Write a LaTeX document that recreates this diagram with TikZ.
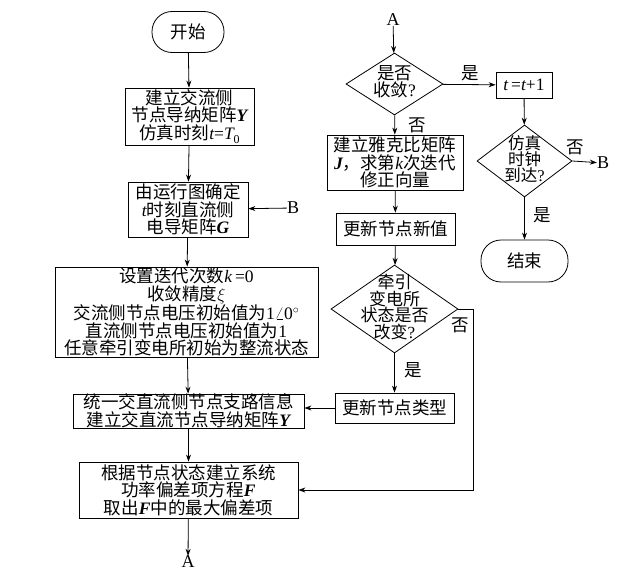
\documentclass[tikz,border=0pt]{standalone}
\usepackage{fontspec}
\setmainfont{Noto Sans CJK SC}
\newfontfamily\tm{Liberation Serif}
\usetikzlibrary{shapes.geometric,arrows.meta}
\newcommand\bi[1]{{\tm\bfseries\itshape #1}}
\newcommand\ti[1]{{\tm\itshape #1}}
\newcommand\tr[1]{{\tm #1}}
\tikzset{
  base/.style={font=\fontsize{17.5}{17.5}\selectfont, align=center, inner sep=0pt},
  box/.style={base, draw, line width=0.8pt},
  term/.style={base, draw, line width=0.8pt, rounded corners=20pt},
  dia/.style={draw, line width=0.8pt, shape=diamond, inner sep=0pt},
  lbl/.style={base},
  arr/.style={line width=0.8pt, -{Stealth[length=7pt,width=5pt]}},
  ln/.style={line width=0.8pt}
}
\begin{document}
\begin{tikzpicture}[x=1pt,y=-1pt]
\useasboundingbox (0,0) rectangle (640,578);
\fill[white] (0,0) rectangle (640,578);
% left column
\node[term, minimum width=72pt, minimum height=41pt] (start) at (188,32) {开始};
\node[box, minimum width=129pt, minimum height=57pt] (b1) at (189.5,116.5)
  {建立交流侧\\节点导纳矩阵\bi{Y}\\仿真时刻\ti{t}\tr{=}\ti{T}\raisebox{-0.25em}{\fontsize{12}{12}\selectfont\tr{0}}};
\node[box, minimum width=120pt, minimum height=55pt] (b2) at (188,209.5)
  {由运行图确定\\\ti{t}时刻直流侧\\电导矩阵\bi{G}};
\node[box, minimum width=263pt, minimum height=90pt, font=\fontsize{17.5}{17.6}\selectfont] (b3) at (186.5,312)
  {设置迭代次数\ti{k}\,\tr{=0}\\收敛精度$\xi$\\交流侧节点电压初始值为\tr{1}$\angle$\tr{0}$^\circ$\\直流侧节点电压初始值为\tr{1}\\任意牵引变电所初始为整流状态};
\node[box, minimum width=231pt, minimum height=32pt] (b4) at (188.5,411)
  {统一交直流侧节点支路信息\\建立交直流节点导纳矩阵\bi{Y}};
\node[box, minimum width=219pt, minimum height=56pt, font=\fontsize{17.5}{17.6}\selectfont] (b5) at (188.5,490)
  {根据节点状态建立系统\\功率偏差项方程\bi{F}\\取出\bi{F}中的最大偏差项};
\node[lbl, font=\tm\fontsize{18}{18}\selectfont] (aout) at (188,562) {A};
\node[lbl, font=\tm\fontsize{18}{18}\selectfont] (bin) at (293,208) {B};
% middle column
\node[lbl, font=\tm\fontsize{18}{18}\selectfont] (ain) at (393,20) {A};
\node[dia, minimum width=97pt, minimum height=62pt] (d1) at (394.5,84) {};
\node[lbl, font=\fontsize{17.5}{17}\selectfont] (d1t) at (394.5,82) {是否\\收敛\tr{?}};
\node[box, minimum width=136pt, minimum height=55pt] (bj) at (395,162.5)
  {建立雅克比矩阵\\\bi{J}，求第\ti{k}次迭代\\修正向量};
\node[box, minimum width=119pt, minimum height=32pt] (bu) at (395.5,229) {更新节点新值};
\node[dia, minimum width=127pt, minimum height=88pt] (d3) at (394.5,309) {};
\node[lbl, font=\fontsize{17}{15.5}\selectfont] (d3t) at (394.5,307) {牵引\\变电所\\状态是否\\改变\tr{?}};
\node[box, minimum width=119pt, minimum height=30pt] (bt) at (394.5,408) {更新节点类型};
% right column
\node[box, minimum width=56pt, minimum height=26pt] (bi) at (524,85) {\ti{t}\,\tr{=}\ti{t}\tr{+1}};
\node[dia, minimum width=95pt, minimum height=72pt] (d2) at (524.5,161) {};
\node[lbl, font=\fontsize{16.5}{14.5}\selectfont] (d2t) at (524.5,159) {仿真\\时钟\\到达\tr{?}};
\node[lbl, font=\tm\fontsize{18}{18}\selectfont] (bout) at (603,163) {B};
\node[term, minimum width=87pt, minimum height=42pt] (end) at (524.5,261) {结束};
% labels
\node[lbl] (l1) at (470,73) {是};
\node[lbl] (l2) at (417,125) {否};
\node[lbl] (l3) at (575,147) {否};
\node[lbl] (l4) at (542,215) {是};
\node[lbl] (l5) at (460,325) {否};
\node[lbl] (l6) at (413,370) {是};
% connectors
\draw[arr] (start) -- (b1);
\draw[arr] (b1) -- (b2);
\draw[arr] (b2) -- (b3);
\draw[arr] (b3) -- (b4);
\draw[arr] (b4) -- (b5);
\draw[arr] (b5) -- (aout);
\draw[arr] (bin) -- (b2);
\draw[arr] (ain) -- (d1);
\draw[arr] (d1) -- (bi);
\draw[arr] (d1) -- (bj);
\draw[arr] (bj) -- (bu);
\draw[arr] (bu) -- (d3);
\draw[arr] (d3) -- (bt);
\draw[arr] (bt.west) -- (bt.west -| b4.east);
\coordinate (c1) at (473,309);
\draw[arr] (d3.east) -- (c1) |- (b5.east);
\draw[arr] (bi) -- (d2);
\draw[arr] (d2.east) -- (bout);
\draw[arr] (d2) -- (end);
\end{tikzpicture}
\end{document}
